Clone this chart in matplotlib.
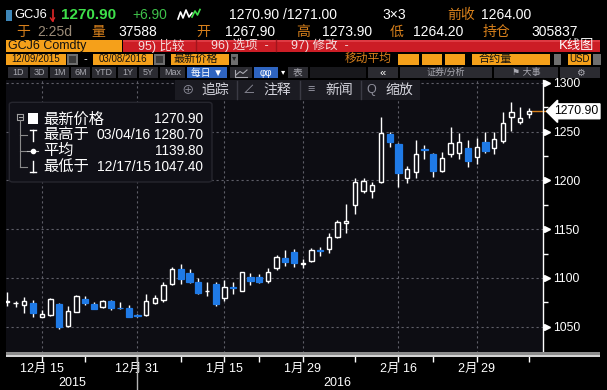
import numpy as np
import pandas as pd
import matplotlib
matplotlib.use('Agg')
import matplotlib.pyplot as plt
from matplotlib.patches import Rectangle, FancyBboxPatch
from matplotlib.lines import Line2D
from matplotlib.transforms import blended_transform_factory

FONT = ['Liberation Sans', 'Noto Sans CJK SC', 'DejaVu Sans']
plt.rcParams['font.family'] = FONT

# trading days shown (12/09/2015 - 03/08/2016, exchange holidays dropped)
holidays = ['2015-12-25', '2016-01-01', '2016-01-18', '2016-02-15']
dates = pd.bdate_range('2015-12-09', '2016-03-08')
dates = dates[~dates.isin(pd.to_datetime(holidays))]

opens = [1075.0, 1074.0, 1072.0, 1074.6, 1060.0, 1062.0, 1073.2, 1051.0, 1065.5, 1078.4,
         1073.2, 1070.0, 1076.3, 1069.6, 1068.8, 1061.8, 1061.5, 1074.0, 1077.5, 1093.4,
         1108.8, 1104.7, 1096.0, 1086.2, 1093.7, 1079.0, 1090.6, 1086.9, 1100.6, 1101.2,
         1097.1, 1109.8, 1120.1, 1126.3, 1114.5, 1117.6, 1128.5, 1129.3, 1142.3, 1156.0,
         1174.8, 1189.4, 1189.6, 1198.0, 1247.5, 1237.3, 1202.1, 1208.9, 1231.8, 1227.1,
         1209.6, 1226.8, 1228.4, 1232.9, 1223.7, 1239.1, 1232.9, 1240.7, 1264.7, 1260.2,
         1267.9]
highs = [1086.0, 1076.6, 1080.0, 1077.3, 1067.0, 1079.0, 1074.5, 1071.0, 1082.0, 1081.8,
         1075.6, 1077.0, 1077.3, 1075.0, 1072.0, 1063.0, 1084.0, 1082.5, 1096.0, 1110.9,
         1114.0, 1108.8, 1099.6, 1095.5, 1095.5, 1097.8, 1095.5, 1106.3, 1104.7, 1104.0,
         1109.8, 1123.5, 1129.0, 1130.0, 1119.0, 1130.4, 1131.4, 1146.4, 1159.4, 1175.8,
         1202.1, 1202.0, 1198.7, 1265.3, 1249.3, 1238.0, 1215.1, 1241.4, 1236.3, 1227.8,
         1228.8, 1255.1, 1248.3, 1241.4, 1243.2, 1249.3, 1250.0, 1269.9, 1280.7, 1275.6,
         1273.9]
lows = [1071.0, 1070.5, 1064.0, 1059.6, 1059.5, 1061.0, 1047.4, 1050.0, 1065.0, 1072.2,
        1068.0, 1069.5, 1067.0, 1068.5, 1059.5, 1060.0, 1061.0, 1073.5, 1075.6, 1093.0,
        1093.4, 1094.5, 1083.5, 1081.4, 1071.5, 1076.6, 1083.2, 1086.5, 1092.7, 1095.0,
        1094.5, 1108.1, 1112.0, 1111.0, 1109.8, 1116.6, 1122.8, 1125.8, 1140.6, 1146.4,
        1165.2, 1186.8, 1182.3, 1197.5, 1233.9, 1192.9, 1197.0, 1202.1, 1221.6, 1203.8,
        1208.9, 1223.7, 1221.6, 1213.4, 1216.8, 1228.4, 1227.1, 1238.7, 1251.0, 1257.8,
        1264.2]
closes = [1076.0, 1074.3, 1076.0, 1063.7, 1063.0, 1078.0, 1050.0, 1066.0, 1081.4, 1074.6,
          1068.4, 1076.6, 1068.8, 1068.8, 1060.2, 1061.2, 1076.3, 1079.0, 1092.7, 1108.8,
          1098.5, 1096.0, 1084.8, 1087.0, 1073.2, 1090.4, 1090.0, 1105.7, 1097.1, 1096.0,
          1105.7, 1121.1, 1116.0, 1115.6, 1115.5, 1128.6, 1127.9, 1141.6, 1157.6, 1158.4,
          1198.7, 1199.7, 1195.3, 1248.3, 1239.7, 1207.9, 1211.3, 1227.1, 1231.2, 1209.6,
          1222.6, 1238.7, 1239.1, 1220.2, 1234.6, 1230.5, 1242.2, 1258.6, 1270.6, 1264.0,
          1270.9]
avg_price = 1139.80

yticks = [1050, 1100, 1150, 1200, 1250, 1300]
yminor = [1075, 1125, 1175, 1225, 1275]
xtick_dates = ['2015-12-15', '2015-12-31', '2016-01-15', '2016-01-29', '2016-02-16', '2016-02-29']
xminor_dates = ['2015-12-22', '2016-01-08', '2016-01-22', '2016-02-08', '2016-02-22', '2016-03-08']

# header quote
quote_last = '1270.90'
quote_chg = '+6.90'
quote_bidask = '1270.90 /1271.00'
quote_prev = '1264.00'
quote_vol = '37588'
quote_open = '1267.90'
quote_high = '1273.90'
quote_low = '1264.20'
quote_oi = '305837'

W, H = 607, 390
BG = '#0d0d13'
BLUE = '#1f7ae6'
AMBER = '#f5a01a'
ORANGE = '#d8801c'
GREEN = '#3ee04a'

fig = plt.figure(figsize=(W / 100, H / 100), dpi=100, facecolor='black')


def rect(x0, y0, x1, y1, fc, z=1):
    fig.add_artist(Rectangle((x0 / W, 1 - y1 / H), (x1 - x0) / W, (y1 - y0) / H,
                             transform=fig.transFigure, fc=fc, ec='none', zorder=z))


def label(x, y, s, c='white', size=9, ha='left', weight='normal', z=6):
    fig.text(x / W, 1 - y / H, s, color=c, fontsize=size, ha=ha, va='center',
             fontweight=weight, zorder=z)


def seg(xs, ys, c, lw=1.0, z=6):
    fig.add_artist(Line2D([v / W for v in xs], [1 - v / H for v in ys], color=c, lw=lw,
                          transform=fig.transFigure, zorder=z))


# ---- chart ----
PX_DAY, X0 = 8.7, 6.9
ax = fig.add_axes([6 / W, (H - 353) / H, 537 / W, 273 / H], facecolor=BG)
x = np.arange(len(dates))
o = np.array(opens); h = np.array(highs); l = np.array(lows); c = np.array(closes)
up = c >= o

ax.vlines(x, l, h, color='white', lw=1, zorder=2)
bottom = np.minimum(o, c)
height = np.maximum(np.abs(c - o), 0.01)
ax.bar(x[up], height[up], bottom=bottom[up], width=0.5, facecolor=BG, edgecolor='white',
       lw=1, zorder=3)
ax.bar(x[~up], height[~up], bottom=bottom[~up], width=0.72, facecolor=BLUE, edgecolor=BLUE,
       lw=0.9, zorder=3)

ax.set_xlim((6 - X0) / PX_DAY, (543 - X0) / PX_DAY)
ax.set_ylim(1023, 1303)

major_idx = [dates.get_loc(pd.Timestamp(d)) for d in xtick_dates]
minor_idx = [dates.get_loc(pd.Timestamp(d)) for d in xminor_dates]
ax.set_xticks(major_idx)
ax.set_xticklabels([f'{dates[i].month}月 {dates[i].day}' for i in major_idx])
ax.set_xticks(minor_idx, minor=True)
ax.tick_params(axis='x', which='both', length=6.5, width=1, color='white', pad=1,
               labelsize=9, labelcolor='white')

ax.yaxis.tick_right()
ax.set_yticks(yticks)
ax.set_yticklabels([str(v) for v in yticks])
ax.set_yticks(yminor, minor=True)
ax.tick_params(axis='y', which='major', length=0, pad=7.2, labelsize=8.7, labelcolor='white')
ax.tick_params(axis='y', which='minor', length=3.6, width=1, color='white')

ax.grid(True, which='major', color='#5e5e68', ls=(0, (2, 2.5)), lw=0.8)
ax.set_axisbelow(True)
for s in ['top', 'left', 'bottom']:
    ax.spines[s].set_visible(False)
ax.spines['right'].set_color('white')
ax.spines['right'].set_linewidth(1)

ty = blended_transform_factory(ax.transAxes, ax.transData)
ax.plot([1.0074] * len(yticks), yticks, transform=ty, marker='>', ms=5, ls='none',
        color='white', clip_on=False)

# last price tag
ax.plot([x[-1] + 0.3, (545 - X0) / PX_DAY], [c[-1], c[-1]], color=ORANGE, lw=1, clip_on=False)
ax.text(1.021, c[-1], f'{c[-1]:.2f}', transform=ty, ha='left', va='center', fontsize=8.7,
        color='black', bbox=dict(boxstyle='larrow,pad=0.12', fc='white', ec='white'))

# years under axis
tx = blended_transform_factory(ax.transData, ax.transAxes)
years = dates.year
for yr in [2015, 2016]:
    idx = x[years == yr]
    ax.text(idx.mean(), -0.11, str(yr), transform=tx, ha='center', va='center',
            fontsize=9, color='white')
last15 = x[years == 2015][-1]
ax.plot([last15, last15], [-0.015, -0.14], transform=tx, color='#b4b4b4', lw=1, clip_on=False)

# scroll bar under chart
rect(6, 351.5, 600, 355, '#8c8c8c')
rect(6, 355, 600, 357, '#d4d4d4')

# ---- chart toolbar ----
rect(175, 80, 420, 100, '#1b1b22', z=2)
for sx in [237, 300, 361]:
    seg([sx, sx], [81, 99], '#3a3a44', 1, z=3)
tool = [(188, '⊕', 201.7, '追踪'), (249, '∠', 263, '注释'), (311, '≡', 325, '新闻'),
        (371, 'Q', 385.7, '缩放')]
for ix, ic, tx0, t in tool:
    label(ix, 90, ic, '#8e8e9a', 9, ha='center')
    label(tx0, 90, t, '#d4d4dc', 10)

# ---- legend box ----
fig.add_artist(FancyBboxPatch((9.3 / W, 1 - 182 / H), (212 - 9.3) / W, (182 - 102.3) / H,
                              boxstyle='round,pad=0,rounding_size=0.006',
                              transform=fig.transFigure, fc='#101017', ec='#26262e', lw=1,
                              zorder=2))
imax = int(np.argmax(h)); imin = int(np.argmin(l))
rows = [(119.3, '最新价格', '', f'{c[-1]:.2f}'),
        (135.0, '最高于', dates[imax].strftime('%m/%d/%y'), f'{h[imax]:.2f}'),
        (150.7, '平均', '', f'{avg_price:.2f}'),
        (166.7, '最低于', dates[imin].strftime('%m/%d/%y'), f'{l[imin]:.2f}')]
for yy, name, dt, val in rows:
    label(43.3, yy, name, 'white', 11)
    if dt:
        label(96.7, yy, dt, 'white', 10)
    label(203.3, yy, val, 'white', 9.8, ha='right')
seg([17, 23, 23, 17, 17], [114, 114, 120, 120, 114], '#a0a0a0', 0.8)
seg([18.5, 21.5], [117, 117], '#a0a0a0', 0.8)
rect(27.5, 113, 38, 124, 'white', z=6)
seg([20, 20], [120, 166.7], '#8a8a8a', 0.8)
for yy in [135, 150.7, 166.7]:
    seg([20, 27], [yy, yy], '#8a8a8a', 0.8)
seg([30, 36], [130, 130], 'white'); seg([33, 33], [130, 140.5], 'white')
seg([27, 38], [150.7, 150.7], '#c0c0c0', 0.8)
fig.add_artist(Line2D([32.5 / W], [1 - 150.7 / H], marker='o', ms=3, color='white',
                      transform=fig.transFigure, zorder=7))
seg([33, 33], [161, 171.5], 'white'); seg([30, 36], [171.5, 171.5], 'white')

# ---- header row 1 ----
rect(6, 10, 11.5, 21, '#3d86b8')
label(14.5, 15, 'GCJ6', 'white', 9.3)
seg([52.5, 52.5], [9.5, 21], '#e02828', 1.2)
seg([50.5, 52.5, 54.5], [18, 21, 18], '#e02828', 1.0)
label(61, 15, quote_last, GREEN, 11, weight='bold')
label(132, 15, quote_chg, '#3ec04a', 10)
seg([178, 180.5, 183, 186, 189, 192], [19, 12, 18, 10, 17, 13], 'white', 1.2)
seg([192, 195, 197.5, 200], [17, 11, 15, 9.5], GREEN, 1.2)
label(228.7, 15, quote_bidask, 'white', 10)
label(382, 15, '3×3', 'white', 10)
label(447.7, 15, '前收', ORANGE, 10)
label(480.6, 15, quote_prev, 'white', 10)

# ---- header row 2 ----
label(16, 32, '于', ORANGE, 10)
label(37, 32, '2:25d', '#9c8c78', 10)
label(91, 32, '量', ORANGE, 10)
label(118, 32, quote_vol, 'white', 10)
label(196, 32, '开', ORANGE, 10)
label(225, 32, quote_open, 'white', 10)
label(296.5, 32, '高', ORANGE, 10)
label(321.7, 32, quote_high, 'white', 10)
label(389.5, 32, '低', ORANGE, 10)
label(412.8, 32, quote_low, 'white', 10)
label(482.6, 32, '持仓', ORANGE, 10)
label(531, 32, quote_oi, 'white', 10)

# ---- header row 3 ----
rect(6, 39.5, 122, 51.5, AMBER)
label(7.8, 45.5, 'GCJ6 Comdty', '#111111', 9)
rect(123, 39.5, 600, 51.5, '#cc1d25')
rect(123, 39.5, 600, 42, '#de3a42')
for sx in [196, 276]:
    seg([sx, sx], [40, 51], '#a0161c', 1)
label(137.6, 45.5, '95) 比较', '#f4e0e0', 9)
label(211, 45.5, '96) 选项  -', '#f4e0e0', 9)
label(290.7, 45.5, '97) 修改  -', '#f4e0e0', 9)
label(594, 45.5, 'K线图', 'white', 9.5, ha='right')

# ---- header row 4 ----
rect(6, 53.5, 66, 65, AMBER)
label(36, 59.2, '12/09/2015', '#111111', 7, ha='center')
rect(67, 53.5, 77.5, 65, '#6e6e6e'); rect(69, 56, 75.5, 63, '#3a3a3a')
label(85, 59, '-', 'white', 8, ha='center')
rect(93, 53.5, 153, 65, AMBER)
label(123, 59.2, '03/08/2016', '#111111', 7, ha='center')
rect(154, 53.5, 165, 65, '#6e6e6e'); rect(156, 56, 163, 63, '#3a3a3a')
rect(170.5, 53.5, 228.7, 65, AMBER)
label(174, 59.2, '最新价格', '#111111', 8)
rect(230.5, 53.5, 238, 65, '#6e6e6e')
label(234.2, 59, '▾', '#222222', 6, ha='center')
label(345, 59, '移动平均', ORANGE, 8.5)
for bx0, bx1 in [(398, 418.6), (421.7, 442), (445, 465)]:
    rect(bx0, 53.5, bx1, 65, AMBER)
rect(472, 53.5, 550, 65, AMBER)
label(478.7, 59.2, '合约量', '#111111', 8)
rect(553.5, 53.5, 561, 65, '#6e6e6e')
rect(568, 53.5, 591, 65, AMBER)
label(579.5, 59.2, 'USD', '#111111', 7, ha='center')
rect(593, 53.5, 601, 65, '#6e6e6e')

# ---- header row 5 ----
btns = [('1D', 8, 28), ('3D', 30, 48), ('1M', 50, 69), ('6M', 71, 90), ('YTD', 92, 116),
        ('1Y', 118, 137), ('5Y', 139, 158), ('Max', 160, 185)]
for t, bx0, bx1 in btns:
    rect(bx0, 67, bx1, 78.3, '#2b2b31')
    label((bx0 + bx1) / 2, 72.8, t, '#a8a8b0', 6.5, ha='center')
rect(187, 67, 227, 78.3, '#2e64c0')
label(207, 72.8, '每日 ▼', 'white', 7, ha='center')
rect(230, 67, 252, 78.3, '#2b2b31')
seg([235, 235, 247], [69.5, 76.5, 76.5], '#a8a8b0', 0.8)
seg([236, 240, 243, 247], [75, 71.5, 73.5, 70], '#a8a8b0', 0.8)
rect(254, 67, 278, 78.3, '#2e64c0')
label(266, 72.8, 'φφ', 'white', 7, ha='center')
label(283, 72.8, '▾', 'white', 6, ha='center')
rect(288, 67, 308, 78.3, '#2b2b31')
label(298, 72.8, '表', '#a8a8b0', 7, ha='center')
rect(310, 67, 366, 78.3, '#18181c')
rect(368, 67, 398, 78.3, '#2b2b31')
label(383, 72.8, '«', 'white', 8, ha='center')
rect(400, 67, 492, 78.3, '#2b2b31')
label(446, 72.8, '证券/分析', '#a8a8b0', 6.5, ha='center')
rect(494, 67, 558, 78.3, '#2b2b31')
label(526, 72.8, '⚑ 大事', '#a8a8b0', 6.5, ha='center')
rect(560, 67, 600, 78.3, '#2b2b31')
label(580, 72.8, '⚙', '#a8a8b0', 7, ha='center')

fig.savefig('out.png', dpi=100, facecolor='black')
